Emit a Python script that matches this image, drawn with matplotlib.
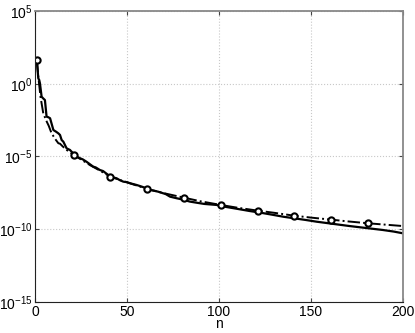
import matplotlib
matplotlib.use("Agg")
import matplotlib.pyplot as plt

# solid curve (n, log10 value)
n_solid = [1, 1.8, 2.3, 2.7, 3.6, 4.4, 5.4, 6.3, 7.2, 8.2, 10, 11.5, 12.7, 13.6, 14.5,
           15.4, 17.2, 19, 19.9, 21.7, 22.6, 24.5, 26, 28, 30.8, 31.7, 33, 35.3, 37,
           39.8, 40.8, 42, 44.4, 46, 48, 49.8, 52, 55.3, 58, 60.7, 62.5, 65, 67, 69.7,
           71, 73.4, 77, 80, 84.2, 88, 92, 98.7, 104, 110, 116.8, 122, 128, 135,
           141, 147, 153, 159, 165, 171, 177, 183, 189, 195, 200]
log_solid = [1.63, 0.37, 0.26, 0.03, -0.89, -1.0, -1.12, -2.26, -2.3, -2.37, -3.18, -3.3,
             -3.41, -3.52, -3.87, -3.98, -4.44, -4.55, -4.67, -4.9, -5.01, -5.12, -5.2,
             -5.36, -5.62, -5.7, -5.75, -5.93, -6.0, -6.27, -6.39, -6.42, -6.5, -6.62,
             -6.73, -6.76, -6.85, -6.96, -7.07, -7.19, -7.3, -7.36, -7.42, -7.53, -7.58,
             -7.76, -7.87, -7.95, -8.1, -8.18, -8.26, -8.33, -8.47, -8.6, -8.75, -8.85,
             -8.98, -9.14, -9.25, -9.36, -9.48, -9.58, -9.68, -9.78, -9.87, -9.96,
             -10.05, -10.16, -10.28]

# dash-dot curve (n, log10 value)
n_dash = [1, 1.8, 3, 4.5, 6, 7.5, 9, 11, 12.7, 13.6, 15, 17.2, 19, 21, 25, 30, 35, 41,
          47, 53, 61, 70, 81, 90, 101, 110, 121, 130, 141, 150, 161, 170, 181, 190, 200]
log_dash = [1.63, 0.49, -0.9, -2.03, -2.5, -2.9, -3.4, -3.8, -4.09, -4.12, -4.3, -4.55,
            -4.7, -4.9, -5.2, -5.6, -5.95, -6.39, -6.65, -6.9, -7.23, -7.52, -7.83,
            -8.08, -8.33, -8.52, -8.72, -8.87, -9.07, -9.2, -9.34, -9.46, -9.59, -9.68,
            -9.78]

# circle markers on the dash-dot curve
n_mark = [1, 21, 41, 61, 81, 101, 121, 141, 161, 181]
log_mark = [1.63, -4.9, -6.39, -7.23, -7.83, -8.33, -8.72, -9.07, -9.34, -9.59]

ytick_exp = [-15, -10, -5, 0, 5]

y_solid = [10 ** v for v in log_solid]
y_dash = [10 ** v for v in log_dash]
y_mark = [10 ** v for v in log_mark]

plt.rcParams['font.family'] = ['Liberation Sans', 'DejaVu Sans']
plt.rcParams['mathtext.fontset'] = 'custom'
plt.rcParams['mathtext.rm'] = 'Liberation Sans'
plt.rcParams['mathtext.it'] = 'Liberation Sans:italic'
plt.rcParams['mathtext.default'] = 'regular'

fig = plt.figure(figsize=(4.15, 3.33), dpi=100)
ax = fig.add_axes([0.0843, 0.0931, 0.8867, 0.8739])

ax.plot(n_dash, y_dash, color='black', linestyle='-.', linewidth=1.4)
ax.plot(n_solid, y_solid, color='black', linestyle='-', linewidth=1.6)
ax.plot(n_mark, y_mark, linestyle='none', marker='o', markersize=4.5,
        markerfacecolor='white', markeredgecolor='black', markeredgewidth=1.5)

ax.set_yscale('log')
ax.set_xlim(0, 200)
ax.set_ylim(1e-15, 1e5)
ax.set_xticks([0, 50, 100, 150, 200])
ax.set_yticks([10.0 ** e for e in ytick_exp])
ax.set_yticklabels(['$10^{%d}$' % e for e in ytick_exp])
ax.minorticks_off()
ax.tick_params(direction='in', length=3, labelsize=10, top=True, right=True,
               color='#444444', pad=2)
ax.grid(True, linestyle=':', color='#c8c8c8', linewidth=0.8)
for side in ['left', 'bottom']:
    ax.spines[side].set_color('#222222')
for side in ['top', 'right']:
    ax.spines[side].set_color('#888888')
    ax.spines[side].set_linewidth(1.3)
ax.set_xlabel('n', fontsize=10, labelpad=-1)

fig.savefig('out.png', dpi=100)
